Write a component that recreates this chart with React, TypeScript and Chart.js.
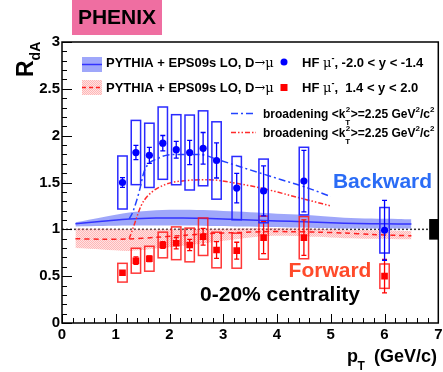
import React, { useEffect, useRef } from 'react';
import { Chart, registerables } from 'chart.js';

Chart.register(...registerables);

// ---- Data ----
const ptValues = [1.125, 1.375, 1.625, 1.875, 2.125, 2.375, 2.625, 2.875, 3.25, 3.75, 4.5, 6.0];
const backwardR = [1.50, 1.82, 1.79, 1.92, 1.85, 1.82, 1.865, 1.735, 1.44, 1.41, 1.515, 0.99];
const backwardStat = [0.053, 0.076, 0.085, 0.082, 0.09, 0.13, 0.169, 0.187, 0.157, 0.267, 0.329, 0.32];
const backwardSys = [0.283, 0.343, 0.343, 0.386, 0.374, 0.40, 0.40, 0.413, 0.338, 0.34, 0.361, 0.243];
const forwardR = [0.537, 0.665, 0.686, 0.833, 0.851, 0.833, 0.921, 0.779, 0.772, 0.911, 0.911, 0.50];
const forwardStat = [0.02, 0.04, 0.03, 0.035, 0.06, 0.06, 0.09, 0.09, 0.09, 0.17, 0.19, 0.178];
const forwardSys = [0.10, 0.133, 0.133, 0.137, 0.175, 0.18, 0.20, 0.19, 0.187, 0.23, 0.225, 0.13];
const sysBoxHalfWidth = 0.087;

const bandPt = [0.25, 0.75, 1.25, 1.75, 2.25, 2.75, 3.25, 3.75, 4.25, 4.75, 5.25, 5.75, 6.25, 6.5];
const blueMid = [1.06, 1.085, 1.11, 1.12, 1.12, 1.115, 1.105, 1.095, 1.085, 1.075, 1.065, 1.06, 1.058, 1.057];
const blueHi = [1.075, 1.13, 1.18, 1.205, 1.21, 1.205, 1.19, 1.175, 1.16, 1.145, 1.125, 1.115, 1.11, 1.107];
const blueLo = [1.03, 1.035, 1.04, 1.04, 1.04, 1.035, 1.03, 1.025, 1.02, 1.015, 1.01, 1.01, 1.01, 1.01];
const redMid = [0.90, 0.895, 0.897, 0.915, 0.935, 0.955, 0.965, 0.975, 0.975, 0.97, 0.96, 0.945, 0.935, 0.932];
const redHi = [1.01, 1.005, 1.0, 1.0, 1.0, 1.005, 1.01, 1.015, 1.012, 1.005, 0.995, 0.99, 0.985, 0.982];
const redLo = [0.80, 0.785, 0.77, 0.795, 0.825, 0.86, 0.895, 0.925, 0.93, 0.92, 0.905, 0.90, 0.895, 0.894];

const broadBackPt = [1.25, 1.32, 1.44, 1.53, 1.8, 2.1, 2.55, 2.92, 3.47, 4.08, 4.58, 5.0];
const broadBackR = [1.11, 1.19, 1.41, 1.62, 1.76, 1.80, 1.80, 1.74, 1.64, 1.53, 1.44, 1.35];
const broadFwdPt = [1.25, 1.35, 1.47, 1.6, 1.93, 2.3, 2.73, 3.16, 3.78, 4.39, 5.0];
const broadFwdR = [0.90, 1.06, 1.25, 1.36, 1.48, 1.52, 1.53, 1.50, 1.43, 1.34, 1.25];

const normPt = [6.83, 7.0];
const normUnc = 0.11;

const xTickMin = 0;
const xTickMax = 7;
const yTickMin = 0;
const yTickMax = 3;

const FONT = '"Liberation Sans", Arial, sans-serif';

const xy = (xs: number[], ys: number[]) => xs.map((x, i) => ({ x, y: ys[i] }));

export default function App() {
  const ref = useRef<HTMLCanvasElement>(null);

  useEffect(() => {
    const canvas = ref.current!;
    const pc = document.createElement('canvas');
    pc.width = 2;
    pc.height = 2;
    const pctx = pc.getContext('2d')!;
    pctx.fillStyle = 'rgba(255,110,110,0.5)';
    pctx.fillRect(0, 0, 1, 1);
    pctx.fillRect(1, 1, 1, 1);
    pctx.fillStyle = 'rgba(255,160,160,0.3)';
    pctx.fillRect(1, 0, 1, 1);
    pctx.fillRect(0, 1, 1, 1);
    const redPattern = canvas.getContext('2d')!.createPattern(pc, 'repeat');

    const BLUE_BAND = 'rgba(80,95,245,0.55)';

    const errPlugin = {
      id: 'errBoxes',
      beforeDatasetDraw(chart: any, args: any) {
        const ds = chart.data.datasets[args.index];
        if (!ds.errInfo) return;
        const { x, y } = chart.scales;
        const ctx = chart.ctx as CanvasRenderingContext2D;
        const a = chart.chartArea;
        const info = ds.errInfo;
        ctx.save();
        ctx.beginPath();
        ctx.rect(a.left, a.top, a.right - a.left, a.bottom - a.top);
        ctx.clip();
        ctx.lineWidth = 1.5;
        ctx.strokeStyle = info.boxColor;
        ptValues.forEach((p, i) => {
          const v = info.vals[i];
          const x0 = x.getPixelForValue(p - sysBoxHalfWidth);
          const x1 = x.getPixelForValue(p + sysBoxHalfWidth);
          const y0 = y.getPixelForValue(v + info.sys[i]);
          const y1 = y.getPixelForValue(v - info.sys[i]);
          ctx.strokeRect(x0, y0, x1 - x0, y1 - y0);
        });
        ctx.strokeStyle = info.errColor;
        ctx.lineWidth = 1.3;
        ptValues.forEach((p, i) => {
          const v = info.vals[i];
          const px = x.getPixelForValue(p);
          const yt = y.getPixelForValue(v + info.stat[i]);
          const yb = y.getPixelForValue(v - info.stat[i]);
          ctx.beginPath();
          ctx.moveTo(px, yt);
          ctx.lineTo(px, yb);
          ctx.moveTo(px - 2.5, yt);
          ctx.lineTo(px + 2.5, yt);
          ctx.moveTo(px - 2.5, yb);
          ctx.lineTo(px + 2.5, yb);
          ctx.stroke();
        });
        ctx.restore();
      },
    };

    const bgPlugin = {
      id: 'bgDecor',
      beforeDatasetsDraw(chart: any) {
        const { x, y } = chart.scales;
        const ctx = chart.ctx as CanvasRenderingContext2D;
        ctx.save();
        ctx.strokeStyle = '#333';
        ctx.lineWidth = 1.5;
        ctx.setLineDash([2, 2]);
        ctx.beginPath();
        ctx.moveTo(x.getPixelForValue(0), y.getPixelForValue(1));
        ctx.lineTo(x.getPixelForValue(normPt[0]), y.getPixelForValue(1));
        ctx.stroke();
        ctx.setLineDash([]);
        ctx.fillStyle = '#000';
        const bx0 = x.getPixelForValue(normPt[0]);
        const bx1 = x.getPixelForValue(normPt[1]);
        const by0 = y.getPixelForValue(1 + normUnc);
        const by1 = y.getPixelForValue(1 - normUnc);
        ctx.fillRect(bx0, by0, bx1 - bx0, by1 - by0);
        ctx.restore();
      },
    };

    const decorPlugin = {
      id: 'decor',
      afterDraw(chart: any) {
        const { x, y } = chart.scales;
        const a = chart.chartArea;
        const ctx = chart.ctx as CanvasRenderingContext2D;
        ctx.save();
        ctx.strokeStyle = '#000';
        ctx.lineWidth = 1.5;
        ctx.strokeRect(a.left, a.top, a.right - a.left, a.bottom - a.top);
        ctx.lineWidth = 1;
        ctx.beginPath();
        for (let k = 0; k <= (xTickMax - xTickMin) * 5; k++) {
          const v = xTickMin + k * 0.2;
          const px = Math.round(x.getPixelForValue(v)) + 0.5;
          const len = k % 5 === 0 ? 9 : 5;
          ctx.moveTo(px, a.bottom);
          ctx.lineTo(px, a.bottom - len);
        }
        for (let k = 0; k <= (yTickMax - yTickMin) * 10; k++) {
          const v = yTickMin + k * 0.1;
          const py = Math.round(y.getPixelForValue(v)) + 0.5;
          const len = k % 5 === 0 ? 10 : 5;
          ctx.moveTo(a.left, py);
          ctx.lineTo(a.left + len, py);
        }
        ctx.stroke();

        // PHENIX label
        ctx.fillStyle = '#ef6ea1';
        ctx.fillRect(72, 0, 90, 35);
        ctx.fillStyle = '#000';
        ctx.font = `bold 21px ${FONT}`;
        ctx.textAlign = 'center';
        ctx.textBaseline = 'middle';
        ctx.fillText('PHENIX', 117, 18);

        // axis titles
        ctx.textAlign = 'left';
        ctx.textBaseline = 'alphabetic';
        ctx.save();
        ctx.translate(33, 77);
        ctx.rotate(-Math.PI / 2);
        ctx.font = `bold 23px ${FONT}`;
        ctx.fillText('R', 0, 0);
        const wR = ctx.measureText('R').width;
        ctx.font = `bold 14px ${FONT}`;
        ctx.fillText('dA', wR, 7);
        ctx.restore();

        ctx.font = `bold 18px ${FONT}`;
        ctx.fillText('p', 347, 362);
        ctx.font = `bold 12px ${FONT}`;
        ctx.fillText('T', 357.5, 370);
        ctx.font = `bold 18px ${FONT}`;
        ctx.textAlign = 'right';
        ctx.fillText('(GeV/c)', 437, 362);

        // legend
        ctx.textAlign = 'left';
        ctx.fillStyle = BLUE_BAND;
        ctx.fillRect(82, 57, 20, 15);
        ctx.strokeStyle = '#3333ff';
        ctx.lineWidth = 1.5;
        ctx.beginPath();
        ctx.moveTo(82, 64.5);
        ctx.lineTo(102, 64.5);
        ctx.stroke();
        if (redPattern) ctx.fillStyle = redPattern;
        ctx.fillRect(82, 80, 20, 15);
        ctx.strokeStyle = '#ff2020';
        ctx.setLineDash([4, 3]);
        ctx.beginPath();
        ctx.moveTo(82, 87.5);
        ctx.lineTo(102, 87.5);
        ctx.stroke();
        ctx.setLineDash([]);

        const drawSeq = (parts: [string, string, number][], x0: number, yb: number) => {
          let cx = x0;
          for (const [t, f, dy] of parts) {
            ctx.font = f;
            ctx.fillText(t, cx, yb + dy);
            cx += ctx.measureText(t).width;
          }
        };
        const B13 = `bold 13px ${FONT}`;
        const S13 = `13px "DejaVu Serif", serif`;
        const B9 = `bold 9px ${FONT}`;
        ctx.fillStyle = '#000';
        drawSeq([['PYTHIA + EPS09s LO, D', B13, 0], ['\u2192\u03bc', S13, 0]], 106, 67);
        drawSeq([['PYTHIA + EPS09s LO, D', B13, 0], ['\u2192\u03bc', S13, 0]], 106, 92);
        drawSeq([['HF ', B13, 0], ['\u03bc', S13, 0], ['-', B9, -6], [', -2.0 < y < -1.4', B13, 0]], 302, 67);
        drawSeq([['HF ', B13, 0], ['\u03bc', S13, 0], ['-', B9, -6], [',  1.4 < y < 2.0', B13, 0]], 302, 92);
        ctx.fillStyle = '#0000ff';
        ctx.beginPath();
        ctx.arc(284, 62, 3.5, 0, Math.PI * 2);
        ctx.fill();
        ctx.fillStyle = '#ff0000';
        ctx.fillRect(280.5, 84, 7, 7);

        const broadRow = (yl: number, yb: number, color: string, dash: number[]) => {
          ctx.strokeStyle = color;
          ctx.lineWidth = 1.5;
          ctx.setLineDash(dash);
          ctx.beginPath();
          ctx.moveTo(231, yl);
          ctx.lineTo(256, yl);
          ctx.stroke();
          ctx.setLineDash([]);
          ctx.fillStyle = '#000';
          const B12 = `bold 12px ${FONT}`;
          const B8 = `bold 8px ${FONT}`;
          let cx = 263;
          ctx.font = B12;
          ctx.fillText('broadening <k', cx, yb);
          cx += ctx.measureText('broadening <k').width;
          ctx.font = B8;
          ctx.fillText('2', cx + 0.5, yb - 6);
          ctx.fillText('T', cx, yb + 7);
          cx += ctx.measureText('T').width + 0.5;
          ctx.font = B12;
          ctx.fillText('>=2.25 GeV', cx, yb);
          cx += ctx.measureText('>=2.25 GeV').width;
          ctx.font = B8;
          ctx.fillText('2', cx, yb - 6);
          cx += ctx.measureText('2').width;
          ctx.font = B12;
          ctx.fillText('/c', cx, yb);
          cx += ctx.measureText('/c').width;
          ctx.font = B8;
          ctx.fillText('2', cx, yb - 6);
        };
        broadRow(113.5, 118, '#2244ff', [7, 3, 2, 3]);
        broadRow(132.5, 137, '#ff2a2a', [5, 2, 1.5, 2, 1.5, 2]);

        ctx.textAlign = 'center';
        ctx.textBaseline = 'middle';
        ctx.font = `bold 21px ${FONT}`;
        ctx.fillStyle = '#2a6cf6';
        ctx.fillText('Backward', 382.5, 182);
        ctx.fillStyle = '#ff4a2a';
        ctx.fillText('Forward', 330, 271);
        ctx.fillStyle = '#000';
        ctx.fillText('0-20% centrality', 280, 295);
        ctx.restore();
      },
    };

    const chart = new Chart(canvas, {
      type: 'scatter',
      data: {
        datasets: [
          {
            data: xy(bandPt, blueHi),
            showLine: true,
            borderWidth: 0,
            borderColor: 'rgba(0,0,0,0)',
            pointRadius: 0,
            fill: '+1',
            backgroundColor: BLUE_BAND,
            tension: 0.3,
            order: 5,
          },
          {
            data: xy(bandPt, blueLo),
            showLine: true,
            borderWidth: 0,
            borderColor: 'rgba(0,0,0,0)',
            pointRadius: 0,
            fill: false,
            tension: 0.3,
            order: 5,
          },
          {
            data: xy(bandPt, redHi),
            showLine: true,
            borderWidth: 0,
            borderColor: 'rgba(0,0,0,0)',
            pointRadius: 0,
            fill: '+1',
            backgroundColor: redPattern as any,
            tension: 0.3,
            order: 4,
          },
          {
            data: xy(bandPt, redLo),
            showLine: true,
            borderWidth: 0,
            borderColor: 'rgba(0,0,0,0)',
            pointRadius: 0,
            fill: false,
            tension: 0.3,
            order: 4,
          },
          {
            data: xy(bandPt, blueMid),
            showLine: true,
            borderColor: '#3333ff',
            borderWidth: 1.5,
            pointRadius: 0,
            tension: 0.3,
            order: 3,
          },
          {
            data: xy(bandPt, redMid),
            showLine: true,
            borderColor: '#ff2020',
            borderWidth: 1.5,
            borderDash: [5, 4],
            pointRadius: 0,
            tension: 0.3,
            order: 3,
          },
          {
            data: xy(broadBackPt, broadBackR),
            showLine: true,
            borderColor: '#2244ff',
            borderWidth: 1.5,
            borderDash: [7, 3, 2, 3],
            pointRadius: 0,
            cubicInterpolationMode: 'monotone',
            order: 2,
          },
          {
            data: xy(broadFwdPt, broadFwdR),
            showLine: true,
            borderColor: '#ff2a2a',
            borderWidth: 1.5,
            borderDash: [5, 2, 1.5, 2, 1.5, 2],
            pointRadius: 0,
            cubicInterpolationMode: 'monotone',
            order: 2,
          },
          {
            data: xy(ptValues, forwardR),
            pointStyle: 'rect',
            pointRadius: 4.7,
            backgroundColor: '#ff0000',
            borderWidth: 0,
            order: 1,
            errInfo: { vals: forwardR, stat: forwardStat, sys: forwardSys, boxColor: 'rgba(255,20,20,0.85)', errColor: '#ff0000' },
          } as any,
          {
            data: xy(ptValues, backwardR),
            pointStyle: 'circle',
            pointRadius: 3.6,
            backgroundColor: '#0000ff',
            borderWidth: 0,
            order: 0,
            errInfo: { vals: backwardR, stat: backwardStat, sys: backwardSys, boxColor: '#2a2aff', errColor: '#0000ff' },
          } as any,
        ],
      },
      options: {
        animation: false,
        responsive: true,
        maintainAspectRatio: false,
        devicePixelRatio: 1,
        layout: { padding: { top: 42, right: 1.5, left: 0, bottom: 0 } },
        plugins: {
          legend: { display: false },
          tooltip: { enabled: false },
        },
        scales: {
          x: {
            type: 'linear',
            min: xTickMin,
            max: xTickMax,
            border: { display: false },
            grid: { display: false, drawTicks: false },
            ticks: {
              stepSize: 1,
              padding: 3,
              color: '#000',
              font: { family: FONT, weight: 'bold', size: 15 },
              maxRotation: 0,
              callback: (v: any) => String(Math.round(Number(v) * 10) / 10),
            },
            afterFit: (s: any) => {
              s.height = 49;
              s.paddingLeft = 0;
              s.paddingRight = 0;
            },
          },
          y: {
            type: 'linear',
            min: yTickMin,
            max: yTickMax,
            border: { display: false },
            grid: { display: false, drawTicks: false },
            ticks: {
              stepSize: 0.5,
              padding: 2,
              color: '#000',
              font: { family: FONT, weight: 'bold', size: 15 },
              callback: (v: any) => String(Math.round(Number(v) * 10) / 10),
            },
            afterFit: (s: any) => {
              s.width = 62;
              s.paddingTop = 0;
              s.paddingBottom = 0;
            },
          },
        },
      } as any,
      plugins: [bgPlugin, errPlugin, decorPlugin],
    });
    return () => chart.destroy();
  }, []);

  return (
    <div style={{ position: 'absolute', left: 0, top: 0, width: 443, height: 372, background: '#fff' }}>
      <canvas ref={ref} />
    </div>
  );
}
